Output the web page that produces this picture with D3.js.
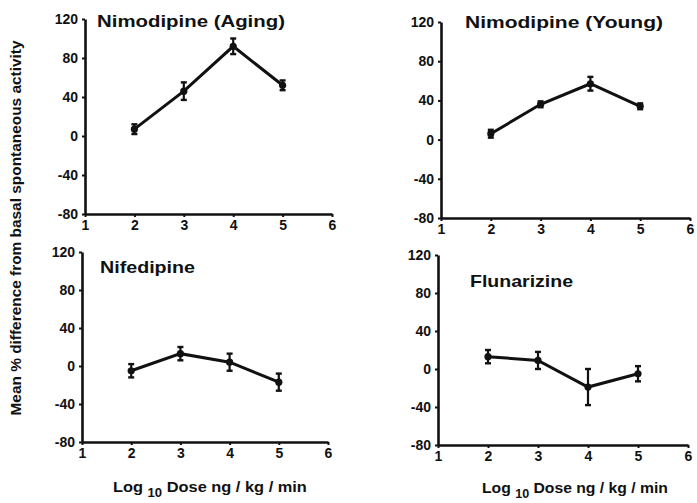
<!DOCTYPE html>
<html>
<head>
<meta charset="utf-8">
<script src="https://cdn.jsdelivr.net/npm/d3@7"></script>
<style>
  html, body { margin: 0; padding: 0; background: #fff; }
  svg { display: block; font-family: "Liberation Sans", Arial, Helvetica, sans-serif; }
</style>
</head>
<body>
<svg id="chart" width="697" height="503"></svg>
<script>
// ---- data ----
const doses = [2, 3, 4, 5];
const xTicks = [1, 2, 3, 4, 5, 6];
const yTicks = [120, 80, 40, 0, -40, -80];
const titles = ["Nimodipine (Aging)", "Nimodipine (Young)", "Nifedipine", "Flunarizine"];
const nimAgingMean = [7, 46, 92, 52];
const nimAgingErr = [5, 9, 8, 5];
const nimYoungMean = [6, 36, 57, 34];
const nimYoungErr = [4, 3, 7, 3];
const nifedipineMean = [-5, 13, 4, -17];
const nifedipineErr = [7, 7, 9, 9];
const flunarizineMean = [13, 9, -19, -5];
const flunarizineErr = [7, 9, 19, 8];
const yLabel = "Mean % difference from basal spontaneous activity";

// ---- layout ----
const panels = [
  { title: titles[0], mean: nimAgingMean, err: nimAgingErr, left: 85, right: 332, top: 19, bottom: 214, tx: 97, ty: 27, tw: 188 },
  { title: titles[1], mean: nimYoungMean, err: nimYoungErr, left: 441, right: 690, top: 22, bottom: 218, tx: 465, ty: 28, tw: 198 },
  { title: titles[2], mean: nifedipineMean, err: nifedipineErr, left: 82, right: 328, top: 252, bottom: 442, tx: 100, ty: 273, tw: 95 },
  { title: titles[3], mean: flunarizineMean, err: flunarizineErr, left: 438, right: 688, top: 255, bottom: 445, tx: 470, ty: 287, tw: 103 }
];

const svg = d3.select("#chart");
const ink = "#111";

panels.forEach(p => {
  const x = d3.scaleLinear().domain([1, 6]).range([p.left, p.right]);
  const y = d3.scaleLinear().domain([-80, 120]).range([p.bottom, p.top]);
  const g = svg.append("g");

  const xAxis = g.append("g")
    .attr("transform", `translate(0,${p.bottom})`)
    .call(d3.axisBottom(x).tickValues(xTicks).tickSize(3).tickSizeOuter(0).tickPadding(3).tickFormat(d3.format("d")));
  const yAxis = g.append("g")
    .attr("transform", `translate(${p.left},0)`)
    .call(d3.axisLeft(y).tickValues(yTicks).tickSize(3).tickSizeOuter(0).tickPadding(4)
      .tickFormat(d => d < 0 ? "-" + Math.abs(d) : String(d)));

  [xAxis, yAxis].forEach(a => {
    a.select(".domain").attr("stroke", ink).attr("stroke-width", 2.6);
    a.selectAll(".tick line").attr("stroke", ink).attr("stroke-width", 2);
    a.selectAll(".tick text").attr("fill", ink).attr("font-size", 14).attr("font-weight", "bold");
  });

  // title
  g.append("text")
    .attr("x", p.tx).attr("y", p.ty)
    .attr("font-size", 17).attr("font-weight", "bold").attr("fill", ink)
    .attr("textLength", p.tw).attr("lengthAdjust", "spacingAndGlyphs")
    .text(p.title);

  const pts = doses.map((d, i) => ({ d, m: p.mean[i], e: p.err[i] }));

  // error bars
  const cap = 3;
  pts.forEach(pt => {
    const cx = x(pt.d);
    g.append("line").attr("x1", cx).attr("x2", cx)
      .attr("y1", y(pt.m + pt.e)).attr("y2", y(pt.m - pt.e))
      .attr("stroke", ink).attr("stroke-width", 2.2);
    [pt.m + pt.e, pt.m - pt.e].forEach(v => {
      g.append("line").attr("x1", cx - cap).attr("x2", cx + cap)
        .attr("y1", y(v)).attr("y2", y(v))
        .attr("stroke", ink).attr("stroke-width", 2.4);
    });
  });

  // line
  g.append("path").datum(pts)
    .attr("fill", "none").attr("stroke", ink).attr("stroke-width", 3)
    .attr("d", d3.line().x(pt => x(pt.d)).y(pt => y(pt.m)));

  // markers
  g.selectAll("circle.pt").data(pts).enter().append("circle")
    .attr("cx", pt => x(pt.d)).attr("cy", pt => y(pt.m)).attr("r", 3.6)
    .attr("fill", ink);
});

// y label
svg.append("text")
  .attr("transform", "translate(21,228) rotate(-90)")
  .attr("text-anchor", "middle")
  .attr("font-size", 14).attr("font-weight", "bold").attr("fill", ink)
  .attr("textLength", 375).attr("lengthAdjust", "spacingAndGlyphs")
  .text(yLabel);

// x labels
[{ x: 113, y: 492, w: 194 }, { x: 482, y: 493, w: 186 }].forEach(pos => {
  const t = svg.append("text")
    .attr("x", pos.x).attr("y", pos.y)
    .attr("font-size", 15).attr("font-weight", "bold").attr("fill", ink);
  t.append("tspan").text("Log ");
  t.append("tspan").attr("font-size", 12).attr("dy", 5).text("10");
  t.append("tspan").attr("dy", -5).text(" Dose ng / kg / min");
  // stretch to the reference width
  const bb = t.node().getComputedTextLength();
  if (bb > 0) {
    const s = pos.w / bb;
    t.attr("transform", `translate(${pos.x},${pos.y}) scale(${s},1) translate(${-pos.x},${-pos.y})`);
  }
});
</script>
</body>
</html>
